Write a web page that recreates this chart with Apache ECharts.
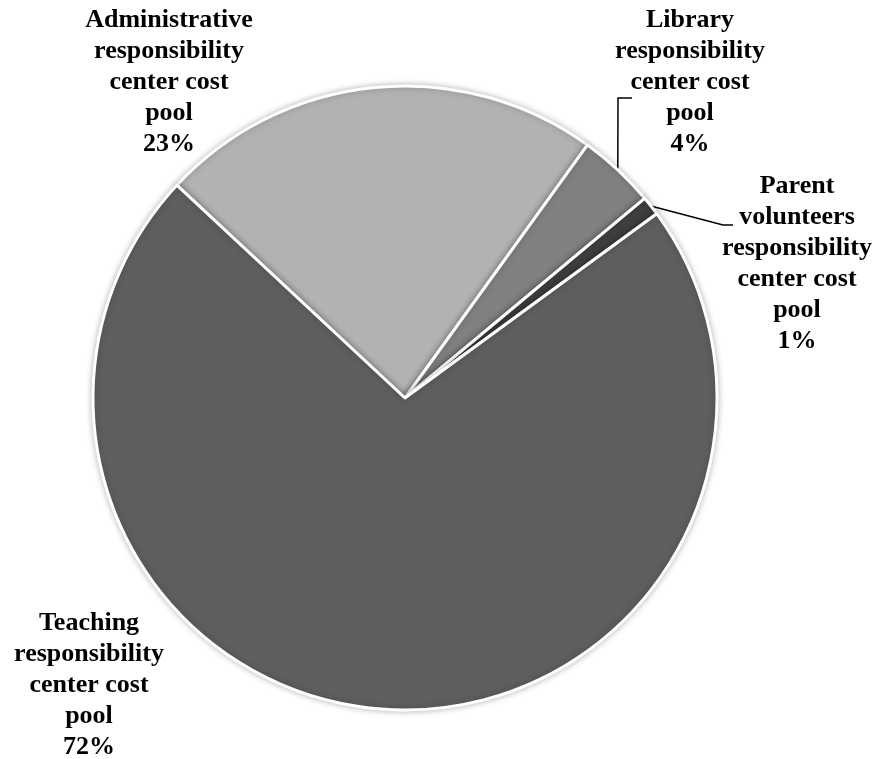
<!DOCTYPE html>
<html>
<head>
<meta charset="utf-8">
<script src="https://cdn.jsdelivr.net/npm/echarts@6/dist/echarts.min.js"></script>
<style>
  html, body { margin: 0; padding: 0; background: #ffffff; }
  #chart { width: 877px; height: 759px; }
</style>
</head>
<body>
<div id="chart"></div>
<script>
// Cost pools and their shares (percent)
const categories = [
  'Administrative\nresponsibility\ncenter cost\npool',
  'Library\nresponsibility\ncenter cost\npool',
  'Parent\nvolunteers\nresponsibility\ncenter cost\npool',
  'Teaching\nresponsibility\ncenter cost\npool'
];
const shares = [23, 4, 1, 72];
const sliceColors = ['#b2b2b2', '#808080', '#3f3f3f', '#5e5e5e'];

// Label anchors (top-centre of each text block) and leader line bends
const labelSpots = [
  { x: 169, y: 5 },
  { x: 690, y: 5 },
  { x: 797, y: 171 },
  { x: 89, y: 608 }
];
const leaderBends = [
  null,
  [[618, 98], [632, 98]],
  [[723, 225], [733, 225]],
  null
];

const chart = echarts.init(document.getElementById('chart'));

const data = categories.map((name, i) => ({
  name: name,
  value: shares[i],
  itemStyle: { color: sliceColors[i] },
  labelLine: { show: leaderBends[i] !== null }
}));

chart.setOption({
  animation: false,
  backgroundColor: '#ffffff',
  series: [{
    type: 'pie',
    center: [405, 398],
    radius: 312,
    startAngle: 137,
    clockwise: true,
    avoidLabelOverlap: false,
    data: data,
    itemStyle: {
      borderColor: '#ffffff',
      borderWidth: 3,
      shadowBlur: 6,
      shadowColor: 'rgba(0,0,0,0.25)'
    },
    label: {
      show: true,
      position: 'outside',
      formatter: p => p.name + '\n' + p.value + '%',
      fontFamily: '"Liberation Serif", "Times New Roman", serif',
      fontWeight: 'bold',
      fontSize: 26,
      lineHeight: 31,
      color: '#000000',
      align: 'center'
    },
    labelLine: {
      show: true,
      lineStyle: { color: '#000000', width: 1.5 }
    },
    labelLayout: function (params) {
      const i = params.dataIndex;
      const spot = labelSpots[i];
      const out = { x: spot.x, y: spot.y, align: 'center', verticalAlign: 'top' };
      if (leaderBends[i] && params.labelLinePoints) {
        out.labelLinePoints = [params.labelLinePoints[0]].concat(leaderBends[i]);
      }
      return out;
    }
  }]
});
</script>
</body>
</html>
